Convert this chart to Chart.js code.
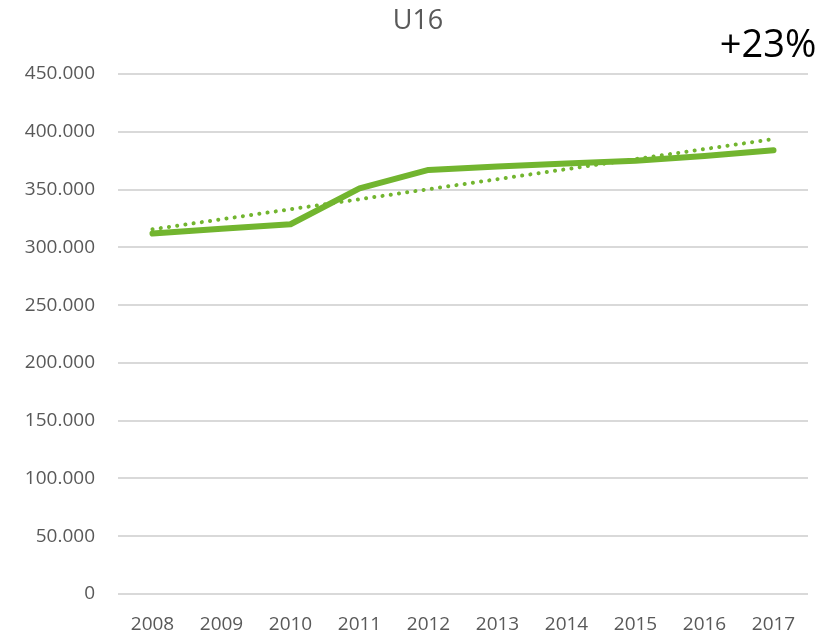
<!DOCTYPE html>
<html>
<head>
<meta charset="utf-8">
<script src="https://cdn.jsdelivr.net/npm/chart.js@4/dist/chart.umd.min.js"></script>
<style>
  body { margin: 0; background: #fff; }
</style>
</head>
<body>
<canvas id="chart" width="839" height="635"></canvas>
<script>
// data
const years = ['2008', '2009', '2010', '2011', '2012', '2013', '2014', '2015', '2016', '2017'];
const players = [312000, 316000, 320000, 351000, 367000, 370000, 372500, 375000, 379000, 384000];
// trendline, only the two ends (straight line between them)
const trend = [315600, null, null, null, null, null, null, null, null, 393700];

const green = '#72b52f';
const grey = '#595959';
const font = "'Open Sans', sans-serif";

// title and the +23% note
const textPlugin = {
  id: 'texts',
  afterDraw(chart) {
    const ctx = chart.ctx;
    ctx.save();
    ctx.textBaseline = 'middle';
    ctx.textAlign = 'center';
    ctx.fillStyle = grey;
    ctx.font = '27px ' + font;
    ctx.fillText('U16', 418, 21);
    ctx.fillStyle = '#000';
    ctx.font = '38px ' + font;
    ctx.fillText('+23%', 768, 46);
    ctx.restore();
  }
};

new Chart(document.getElementById('chart'), {
  type: 'line',
  data: {
    labels: years,
    datasets: [{
      data: players,
      borderColor: green,
      borderWidth: 6,
      pointRadius: 0,
      tension: 0,
      borderCapStyle: 'round',
      borderJoinStyle: 'round'
    }, {
      data: trend,
      spanGaps: true,
      borderColor: green,
      borderWidth: 4,
      borderDash: [0.1, 8.2],
      borderCapStyle: 'round',
      pointRadius: 0
    }]
  },
  options: {
    responsive: false,
    animation: false,
    layout: { padding: { top: 74, right: 31, bottom: 0, left: 0 } },
    plugins: { legend: { display: false }, title: { display: false }, tooltip: { enabled: false } },
    scales: {
      x: {
        offset: true,
        grid: { display: false, drawTicks: false },
        border: { display: false },
        ticks: { color: grey, font: { family: font, size: 19 }, padding: 19, maxRotation: 0 },
        afterFit: s => { s.height = 41; }
      },
      y: {
        min: 0,
        max: 450000,
        grid: { color: '#d9d9d9', lineWidth: 2, drawTicks: false },
        border: { display: false },
        ticks: {
          stepSize: 50000,
          color: grey,
          font: { family: font, size: 19 },
          padding: 23,
          callback: v => v.toLocaleString('de-DE')
        },
        afterFit: s => { s.width = 118; }
      }
    }
  },
  plugins: [textPlugin]
});
</script>
</body>
</html>
